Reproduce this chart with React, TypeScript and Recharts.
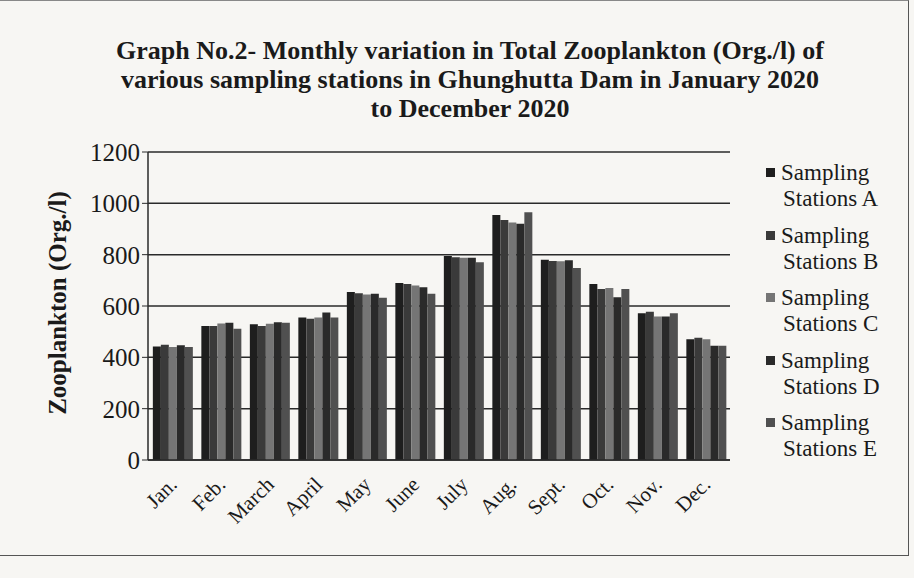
import React from "react";
import { BarChart, Bar, XAxis, YAxis, CartesianGrid } from "recharts";

const months = ["Jan.", "Feb.", "March", "April", "May", "June", "July", "Aug.", "Sept.", "Oct.", "Nov.", "Dec."];
const stationA = [442, 522, 529, 555, 655, 690, 795, 955, 780, 686, 572, 470];
const stationB = [449, 522, 522, 550, 650, 686, 790, 935, 775, 666, 578, 476];
const stationC = [440, 532, 531, 555, 645, 680, 788, 925, 774, 670, 559, 470];
const stationD = [447, 535, 537, 575, 648, 673, 788, 920, 778, 634, 559, 445];
const stationE = [440, 511, 535, 555, 632, 648, 770, 965, 748, 666, 572, 445];
const yTicks = [0, 200, 400, 600, 800, 1000, 1200];
const seriesNames = ["Sampling Stations A", "Sampling Stations B", "Sampling Stations C", "Sampling Stations D", "Sampling Stations E"];
const seriesColors = ["#1e1e1e", "#3a3a3a", "#757575", "#2a2a2a", "#505050"];

const data = months.map((m, i) => ({
  month: m,
  A: stationA[i],
  B: stationB[i],
  C: stationC[i],
  D: stationD[i],
  E: stationE[i],
}));

const FONT = "'Liberation Serif', 'Times New Roman', serif";

const XTick = (props: any) => {
  const { x, y, payload } = props;
  return (
    <g transform={`translate(${x - 4},${y + 8})`}>
      <text
        x={0}
        y={0}
        dy={14}
        textAnchor="end"
        transform="rotate(-45)"
        fontFamily={FONT}
        fontSize={21}
        fill="#1a1a1a"
      >
        {payload.value}
      </text>
    </g>
  );
};

export default function App() {
  const keys = ["A", "B", "C", "D", "E"];
  return (
    <div
      style={{
        position: "absolute",
        left: 0,
        top: 0,
        width: 914,
        height: 578,
        background: "#f7f6f3",
        fontFamily: FONT,
        overflow: "hidden",
      }}
    >
      <div
        style={{
          position: "absolute",
          left: 0,
          top: 0,
          width: 908,
          height: 554,
          borderRight: "1.5px solid #555",
          borderBottom: "1.5px solid #555",
          borderTop: "1px solid #888",
        }}
      />
      <div
        style={{
          position: "absolute",
          left: 20,
          width: 900,
          top: 36,
          textAlign: "center",
          fontWeight: "bold",
          fontSize: 26,
          lineHeight: "29px",
          color: "#1a1a1a",
        }}
      >
        Graph No.2- Monthly variation in Total Zooplankton (Org./l) of
        <br />
        various sampling stations in Ghunghutta Dam in January 2020
        <br />
        to December 2020
      </div>
      <div
        style={{
          position: "absolute",
          left: 58,
          top: 303,
          transform: "translate(-50%, -50%) rotate(-90deg)",
          whiteSpace: "nowrap",
          fontWeight: "bold",
          fontSize: 25,
          color: "#1a1a1a",
        }}
      >
        Zooplankton (Org./l)
      </div>
      <div style={{ position: "absolute", left: 0, top: 0 }}>
        <BarChart
          width={914}
          height={578}
          data={data}
          margin={{ top: 152, right: 184, bottom: 0, left: 0 }}
          barCategoryGap="10%"
          barGap={0}
        >
          <CartesianGrid vertical={false} stroke="#2a2a2a" strokeWidth={1.5} />
          <XAxis
            dataKey="month"
            tick={<XTick />}
            tickLine={false}
            axisLine={{ stroke: "#2a2a2a", strokeWidth: 1.5 }}
            interval={0}
            height={118}
          />
          <YAxis
            domain={[0, 1200]}
            ticks={yTicks}
            width={148}
            axisLine={{ stroke: "#2a2a2a", strokeWidth: 1.5 }}
            tickLine={{ stroke: "#2a2a2a" }}
            tickSize={6}
            tick={{ fontFamily: FONT, fontSize: 25, fill: "#1a1a1a" }}
            interval={0}
          />
          {keys.map((k, i) => (
            <Bar key={k} dataKey={k} name={seriesNames[i]} fill={seriesColors[i]} isAnimationActive={false} />
          ))}
        </BarChart>
      </div>
      {seriesNames.map((name, i) => (
        <div
          key={name}
          style={{
            position: "absolute",
            left: 766,
            top: 160 + i * 62.5,
            fontSize: 23,
            lineHeight: "26px",
            color: "#1a1a1a",
          }}
        >
          <span
            style={{
              display: "inline-block",
              width: 9,
              height: 9,
              background: seriesColors[i],
              marginRight: 6,
              verticalAlign: "middle",
              position: "relative",
              top: -2,
            }}
          />
          Sampling
          <br />
          <span style={{ marginLeft: 17 }}>Stations {name.slice(-1)}</span>
        </div>
      ))}
    </div>
  );
}
